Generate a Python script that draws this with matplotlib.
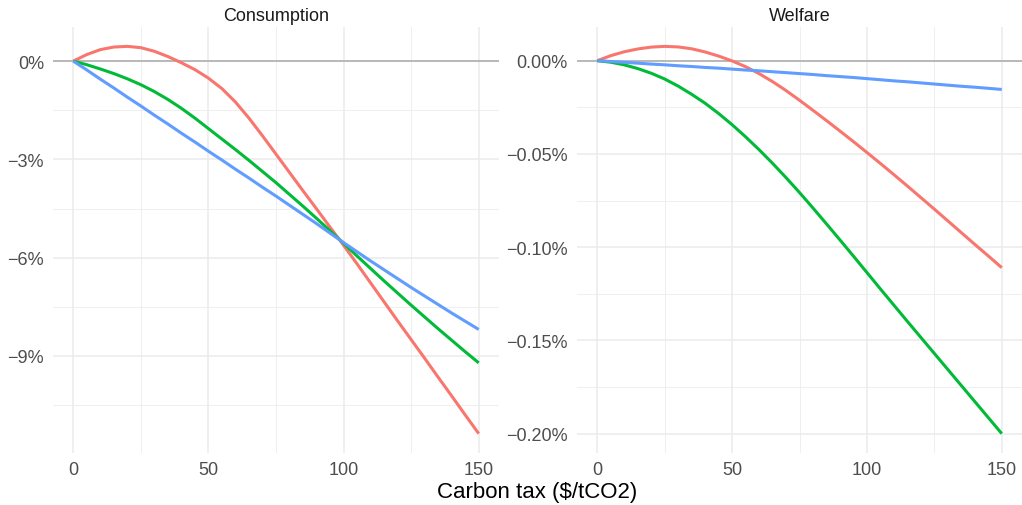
import matplotlib
matplotlib.use("Agg")
import matplotlib.pyplot as plt
from matplotlib.ticker import FixedLocator, FuncFormatter

plt.rcParams['font.family'] = ['Liberation Sans', 'DejaVu Sans']

# ---------------- data (values in percent) ----------------
tax = [0, 5, 10, 15, 20, 25, 30, 35, 40, 45, 50, 55, 60, 65, 70, 75,
       80, 85, 90, 95, 100, 105, 110, 115, 120, 125, 130, 135, 140, 145, 150]

cons_red = [0, 0.20, 0.35, 0.43, 0.45, 0.41, 0.30, 0.14, -0.05, -0.26, -0.52,
            -0.84, -1.25, -1.74, -2.28, -2.84, -3.40, -3.96, -4.51, -5.07, -5.62,
            -6.19, -6.77, -7.35, -7.93, -8.50, -9.07, -9.65, -10.22, -10.80, -11.37]
cons_green = [0, -0.11, -0.24, -0.38, -0.54, -0.72, -0.93, -1.17, -1.44, -1.74, -2.06,
              -2.38, -2.70, -3.03, -3.37, -3.71, -4.07, -4.43, -4.80, -5.18, -5.56,
              -5.95, -6.33, -6.71, -7.08, -7.45, -7.81, -8.17, -8.52, -8.87, -9.21]
cons_blue = [0, -0.27, -0.55, -0.82, -1.10, -1.37, -1.65, -1.92, -2.20, -2.47, -2.75,
             -3.02, -3.30, -3.57, -3.85, -4.12, -4.40, -4.68, -4.96, -5.25, -5.54,
             -5.82, -6.10, -6.37, -6.64, -6.91, -7.17, -7.43, -7.69, -7.94, -8.19]

welf_red = [0, 0.0027, 0.0048, 0.0063, 0.0073, 0.0077, 0.0074, 0.0064, 0.0047, 0.0025, -0.0001,
            -0.0032, -0.0069, -0.0112, -0.0160, -0.0212, -0.0266, -0.0321, -0.0377, -0.0434, -0.0492,
            -0.0551, -0.0611, -0.0672, -0.0734, -0.0796, -0.0859, -0.0922, -0.0985, -0.1047, -0.1110]
welf_green = [0, -0.0008, -0.0022, -0.0042, -0.0067, -0.0098, -0.0136, -0.0180, -0.0228, -0.0283, -0.0343,
              -0.0408, -0.0477, -0.0550, -0.0627, -0.0707, -0.0790, -0.0875, -0.0961, -0.1048, -0.1136,
              -0.1224, -0.1311, -0.1398, -0.1484, -0.1570, -0.1656, -0.1742, -0.1828, -0.1914, -0.2000]
welf_blue = [0, -0.0004, -0.0009, -0.0013, -0.0018, -0.0022, -0.0027, -0.0031, -0.0036, -0.0040, -0.0045,
             -0.0050, -0.0054, -0.0059, -0.0064, -0.0069, -0.0074, -0.0080, -0.0085, -0.0090, -0.0096,
             -0.0102, -0.0108, -0.0113, -0.0119, -0.0125, -0.0131, -0.0137, -0.0142, -0.0148, -0.0154]

panel_titles = ["Consumption", "Welfare"]
x_ticks = [0, 50, 100, 150]
x_minor = [25, 75, 125]
cons_ticks = [0, -3, -6, -9]
cons_minor = [-1.5, -4.5, -7.5, -10.5]
welf_ticks = [0, -0.05, -0.10, -0.15, -0.20]
welf_minor = [-0.025, -0.075, -0.125, -0.175]
x_title = "Carbon tax (\\$/tCO2)"

colors = ["#F8766D", "#00BA38", "#619CFF"]

# ---------------- figure ----------------
W, H = 1022, 506
fig = plt.figure(figsize=(W / 100, H / 100), dpi=100)


def px_axes(l, t, r, b):
    return fig.add_axes([l / W, 1 - b / H, (r - l) / W, (b - t) / H])


ax1 = px_axes(53, 28, 499, 454)
ax2 = px_axes(577, 28, 1022, 454)


def fmt_factory(dec):
    def f(v, p):
        if abs(v) < 1e-12:
            v = 0.0
        s = f"{v:.{dec}f}%"
        return s.replace("-", "\u2212")
    return FuncFormatter(f)


setups = [
    (ax1, [cons_red, cons_green, cons_blue], cons_ticks, cons_minor, 0, panel_titles[0]),
    (ax2, [welf_red, welf_green, welf_blue], welf_ticks, welf_minor, 2, panel_titles[1]),
]

for ax, series, yt, ym, dec, title in setups:
    ax.axhline(0, color="#A9A9A9", lw=1.1, zorder=1.5)
    for ys, c in zip(series, colors):
        ax.plot(tax, ys, color=c, lw=2.2, solid_capstyle="butt",
                solid_joinstyle="round", zorder=3)
    ax.set_xlim(-7.5, 157.5)
    ax.margins(y=0.05)
    ax.xaxis.set_major_locator(FixedLocator(x_ticks))
    ax.xaxis.set_minor_locator(FixedLocator(x_minor))
    ax.yaxis.set_major_locator(FixedLocator(yt))
    ax.yaxis.set_minor_locator(FixedLocator(ym))
    ax.yaxis.set_major_formatter(fmt_factory(dec))
    ax.grid(which="major", color="#EBEBEB", lw=1.1)
    ax.grid(which="minor", color="#EBEBEB", lw=0.55)
    ax.set_axisbelow(True)
    for s in ax.spines.values():
        s.set_visible(False)
    ax.tick_params(which="both", length=0, labelsize=13, labelcolor="#4D4D4D")
    ax.tick_params(axis="y", pad=6.5)
    ax.tick_params(axis="x", pad=5.5)
    ax.set_title(title, fontsize=13, color="#1A1A1A", pad=5)

fig.text(537.5 / W, 1 - 493 / H, x_title, ha="center", va="center",
         fontsize=16, color="black")

fig.savefig("out.png", dpi=100, facecolor="white")
